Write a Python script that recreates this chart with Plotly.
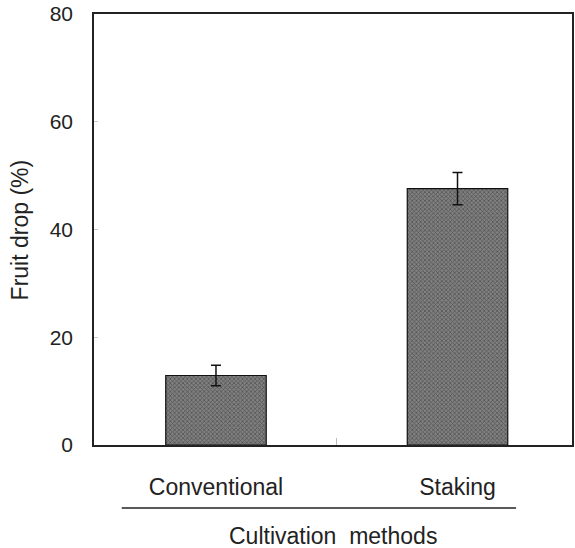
import plotly.graph_objects as go

categories = ["Conventional", "Staking"]
fruit_drop = [12.9, 47.6]
fruit_drop_err = [1.9, 3.0]
y_ticks = [0, 20, 40, 60, 80]
y_title = "Fruit drop (%)"
x_title = "Cultivation\u00a0 methods"

FONT = "Liberation Sans, Arial, sans-serif"
positions = list(range(len(categories)))

fig = go.Figure()
fig.add_trace(go.Bar(
    x=positions, y=fruit_drop, width=0.416,
    marker=dict(
        color="#7a7a7a",
        line=dict(color="#111", width=1.2),
        pattern=dict(shape="x", size=3, solidity=0.45, fgcolor="#262626", bgcolor="#808080"),
    ),
    error_y=dict(type="data", array=fruit_drop_err, visible=True,
                 color="#111", thickness=1.5, width=5),
    showlegend=False,
))
# invisible trace for the secondary x axis (mid tick)
fig.add_trace(go.Scatter(x=[0.5], y=[0], xaxis="x2", mode="markers",
                         marker=dict(opacity=0), showlegend=False, hoverinfo="skip"))

fig.update_layout(
    width=575, height=548,
    margin=dict(l=94, r=1, t=14, b=103),
    paper_bgcolor="white", plot_bgcolor="white",
    font=dict(family=FONT, color="#222"),
    xaxis=dict(
        range=[-0.505, 1.474], tickmode="array", tickvals=positions, ticktext=categories,
        ticks="", showgrid=False, zeroline=False,
        showline=True, linecolor="#222", linewidth=1.5, mirror=True,
        tickfont=dict(size=23, color="#222"), ticklabelstandoff=21,
    ),
    xaxis2=dict(
        overlaying="x", range=[-0.505, 1.474], tickmode="array", tickvals=[0.5],
        ticktext=[""], ticks="inside", ticklen=7, tickcolor="#bbb", tickwidth=1,
        showgrid=False, zeroline=False, showline=False, side="bottom", anchor="y",
    ),
    yaxis=dict(
        range=[0, 80], tickmode="array", tickvals=y_ticks,
        ticks="inside", ticklen=4, tickcolor="#ccc", tickwidth=1,
        showgrid=False, zeroline=False,
        showline=True, linecolor="#222", linewidth=1.5, mirror=True,
        tickfont=dict(size=21, color="#222"), ticklabelstandoff=15,
    ),
    annotations=[
        dict(text=y_title, xref="paper", yref="paper", x=-0.155, y=0.5,
             xanchor="center", yanchor="middle", textangle=-90, showarrow=False,
             font=dict(size=23, color="#222", family=FONT)),
        dict(text=x_title, xref="paper", yref="paper", x=0.5, y=-0.211,
             xanchor="center", yanchor="middle", showarrow=False,
             font=dict(size=23, color="#222", family=FONT)),
    ],
    shapes=[
        dict(type="line", xref="paper", yref="paper", x0=0.058, x1=0.883,
             y0=-0.146, y1=-0.146, line=dict(color="#222", width=1.5)),
    ],
)

fig.write_html("out.html")
